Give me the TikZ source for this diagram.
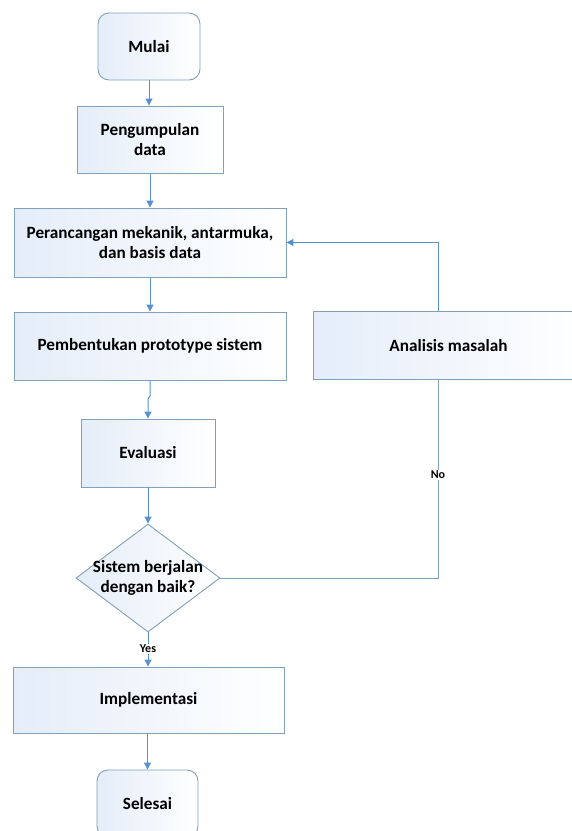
\documentclass[tikz,border=0pt]{standalone}
\usepackage{fontspec}
\setmainfont{Carlito}
\usetikzlibrary{shapes.geometric,arrows.meta}

\definecolor{garis}{RGB}{128,160,190}
\definecolor{panah}{RGB}{88,146,206}
\definecolor{isibiru}{RGB}{228,237,249}

\tikzset{
    kotak/.style={draw=garis, line width=0.9pt, left color=isibiru, right color=white, align=center, inner sep=2pt, font=\fontsize{17.2}{20.5}\selectfont\bfseries},
    ujung/.style={kotak, rounded corners=11pt},
    pilih/.style={draw=garis, line width=0.9pt, diamond, left color=isibiru, right color=white, inner sep=0pt},
    teks/.style={align=center, font=\fontsize{17.2}{20.5}\selectfont\bfseries},
    ket/.style={fill=white, inner sep=1pt, font=\fontsize{12}{14}\selectfont\bfseries},
    alur/.style={draw=panah, line width=1pt, -{Triangle[length=7pt,width=7pt]}},
    balikan/.style={draw=garis, line width=1pt}
}

\begin{document}
\begin{tikzpicture}[x=1pt, y=-1pt]
    \useasboundingbox (0,0) rectangle (572,831);
    \clip (0,0) rectangle (572,831);


    \node [ujung, minimum width=102pt, minimum height=67pt] at (149,46.5) (mulai) {Mulai};
    \node [kotak, minimum width=146pt, minimum height=67pt] at (150,139.5) (kumpul) {Pengumpulan\\data};
    \node [kotak, minimum width=272pt, minimum height=69pt] at (150,242.5) (rancang) {Perancangan mekanik, antarmuka,\\dan basis data};
    \node [kotak, minimum width=272pt, minimum height=68pt] at (150,346) (bentuk) {Pembentukan prototype sistem};
    \node [kotak, minimum width=271pt, minimum height=68pt] at (448.5,345.5) (analisis) {Analisis masalah};
    \node [kotak, minimum width=134pt, minimum height=68pt] at (148,453) (evaluasi) {Evaluasi};
    \node [pilih, minimum width=144pt, minimum height=108pt] at (148,578) (cek) {};
    \node [teks] at (148,578) (cektxt) {Sistem berjalan\\dengan baik?};
    \node [kotak, minimum width=271pt, minimum height=66pt] at (148.5,700) (implementasi) {Implementasi};
    \node [ujung, minimum width=101pt, minimum height=67pt] at (147.5,803.5) (selesai) {Selesai};

    \coordinate (belok) at (438,578);
    \coordinate (balik) at (438,242.5);
    \coordinate (jog1) at (150,396);
    \coordinate (jog2) at (148,399);


    \path [alur] (mulai.south) -- (mulai.south |- kumpul.north);
    \path [alur] (kumpul.south) -- (kumpul.south |- rancang.north);
    \path [alur] (rancang.south) -- (bentuk.north);
    \path [alur] (bentuk.south) -- (jog1) -- (jog2) -- (evaluasi.north);
    \path [alur] (evaluasi.south) -- (cek.north);
    \path [alur] (cek.south) -- (implementasi.north -| cek.south);
    \path [alur] (implementasi.south -| selesai.north) -- (selesai.north);

    \path [balikan] (cek.east) -- (belok) -- (analisis.south -| belok);
    \path [balikan, -{Triangle[length=7pt,width=7pt]}, draw=panah] (analisis.north -| balik) -- (balik) -- (rancang.east);

    \node [ket] at (148,649) (ya) {Yes};
    \node [ket] at (438,475) (tidak) {No};

\end{tikzpicture}
\end{document}
